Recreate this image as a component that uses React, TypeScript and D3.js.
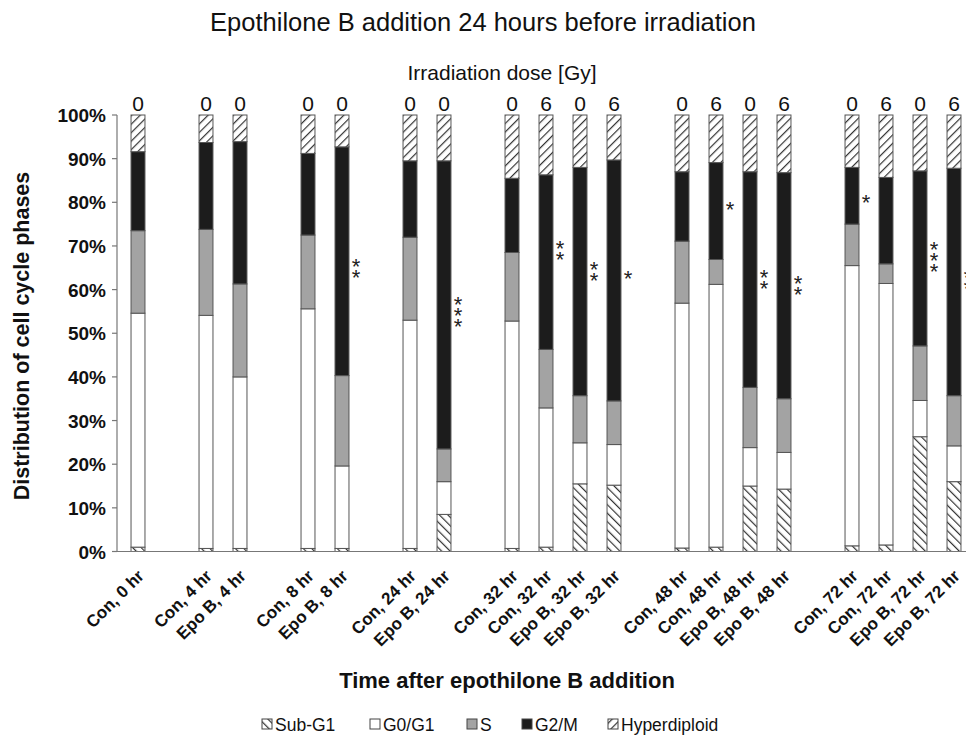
import React from "react";
import * as d3 from "d3";

// slots along the x axis; "" = empty gap between groups
const categories = [
  "Con, 0 hr", "",
  "Con, 4 hr", "Epo B, 4 hr", "",
  "Con, 8 hr", "Epo B, 8 hr", "",
  "Con, 24 hr", "Epo B, 24 hr", "",
  "Con, 32 hr", "Con, 32 hr", "Epo B, 32 hr", "Epo B, 32 hr", "",
  "Con, 48 hr", "Con, 48 hr", "Epo B, 48 hr", "Epo B, 48 hr", "",
  "Con, 72 hr", "Con, 72 hr", "Epo B, 72 hr", "Epo B, 72 hr",
];
const doses = [
  "0", "",
  "0", "0", "",
  "0", "0", "",
  "0", "0", "",
  "0", "6", "0", "6", "",
  "0", "6", "0", "6", "",
  "0", "6", "0", "6",
];

const subG1 = [1.0, null, 0.7, 0.7, null, 0.7, 0.7, null, 0.7, 8.5, null, 0.7, 1.0, 15.5, 15.2, null, 0.8, 1.0, 15.0, 14.3, null, 1.3, 1.5, 26.3, 16.0];
const g0g1 = [53.6, null, 53.4, 39.3, null, 54.9, 18.9, null, 52.3, 7.5, null, 52.1, 31.9, 9.4, 9.3, null, 56.1, 60.2, 8.8, 8.4, null, 64.2, 59.9, 8.3, 8.2];
const sPhase = [18.9, null, 19.7, 21.3, null, 16.9, 20.7, null, 19.0, 7.5, null, 15.7, 13.4, 10.8, 10.0, null, 14.2, 5.7, 13.8, 12.3, null, 9.5, 4.5, 12.5, 11.5];
const g2m = [18.1, null, 19.9, 32.6, null, 18.7, 52.4, null, 17.5, 66.0, null, 17.0, 40.0, 52.3, 55.2, null, 15.9, 22.2, 49.4, 51.8, null, 13.0, 19.8, 40.1, 52.1];
const hyper = [8.4, null, 6.3, 6.1, null, 8.8, 7.3, null, 10.5, 10.5, null, 14.5, 13.7, 12.0, 10.3, null, 13.0, 10.9, 13.0, 13.2, null, 12.0, 14.3, 12.8, 12.2];

const seriesNames = ["Sub-G1", "G0/G1", "S", "G2/M", "Hyperdiploid"];
const seriesFill = ["url(#hatchDown)", "#ffffff", "#a3a3a3", "#1c1c1c", "url(#hatchUp)"];

// significance marks: slot index, label, level (%)
const starSlot = [6, 9, 12, 13, 14, 17, 18, 19, 21, 23, 24];
const starLabel = ["**", "***", "**", "**", "*", "*", "**", "**", "*", "***", "**"];
const starLevel = [65.1, 55.3, 69.4, 64.6, 63.6, 79.4, 62.7, 61.2, 81.2, 67.9, 62.7];

const yTicks = [0, 10, 20, 30, 40, 50, 60, 70, 80, 90, 100];

const W = 966;
const H = 739;
const font = "'Liberation Sans', Arial, sans-serif";

export default function App() {
  const keys = categories.map((_, i) => String(i));
  const x = d3.scaleBand().domain(keys).range([121, 971]).paddingInner(0.59).paddingOuter(0.295);
  const y = d3.scaleLinear().domain([0, 100]).range([551.5, 115]);
  const bw = x.bandwidth();

  const rows = categories.map((c, i) => ({
    key: String(i),
    vals: [subG1[i], g0g1[i], sPhase[i], g2m[i], hyper[i]],
  }));

  const legendX = [262, 370, 467, 522, 608];

  return (
    <svg width={W} height={H} style={{ position: "absolute", left: 0, top: 0, background: "#fff" }}>
      <defs>
        <pattern id="hatchUp" width="6" height="6" patternUnits="userSpaceOnUse" patternTransform="rotate(45)">
          <rect width="6" height="6" fill="#fff" />
          <line x1="0" y1="0" x2="0" y2="6" stroke="#333" strokeWidth="2.4" />
        </pattern>
        <pattern id="hatchDown" width="6" height="6" patternUnits="userSpaceOnUse" patternTransform="rotate(-45)">
          <rect width="6" height="6" fill="#fff" />
          <line x1="0" y1="0" x2="0" y2="6" stroke="#333" strokeWidth="2.4" />
        </pattern>
      </defs>

      <text x={483} y={31} textAnchor="middle" fontFamily={font} fontSize={25.5} fill="#111">
        Epothilone B addition 24 hours before irradiation
      </text>
      <text x={502} y={80} textAnchor="middle" fontFamily={font} fontSize={21} fill="#111">
        Irradiation dose [Gy]
      </text>

      {/* y axis */}
      <line x1={117} x2={117} y1={y(0)} y2={y(100)} stroke="#777" strokeWidth={1.2} />
      {yTicks.map((t) => (
        <g key={t}>
          <line x1={112} x2={117} y1={y(t)} y2={y(t)} stroke="#777" strokeWidth={1.2} />
          <text x={106} y={y(t) + 7} textAnchor="end" fontFamily={font} fontWeight="bold" fontSize={19} fill="#111">
            {t}%
          </text>
        </g>
      ))}
      <text
        transform={`translate(29,${336}) rotate(-90)`}
        textAnchor="middle"
        fontFamily={font}
        fontWeight="bold"
        fontSize={21.5}
        fill="#111"
      >
        Distribution of cell cycle phases
      </text>

      {/* bars */}
      {rows.map((r) => {
        if (r.vals[0] == null) return null;
        let acc = 0;
        const x0 = x(r.key)!;
        return (
          <g key={r.key}>
            {r.vals.map((v, j) => {
              const lo = acc;
              acc += v as number;
              return (
                <rect
                  key={j}
                  x={x0}
                  y={y(acc)}
                  width={bw}
                  height={y(lo) - y(acc)}
                  fill={seriesFill[j]}
                  stroke="#555"
                  strokeWidth={1}
                />
              );
            })}
          </g>
        );
      })}

      <line x1={117} x2={W} y1={y(0)} y2={y(0)} stroke="#777" strokeWidth={1.2} />

      {/* dose labels */}
      {doses.map((d, i) =>
        d ? (
          <text key={i} x={x(String(i))! + bw / 2} y={111} textAnchor="middle" fontFamily={font} fontSize={21} fill="#111">
            {d}
          </text>
        ) : null
      )}

      {/* significance, stacked vertically */}
      {starSlot.map((s, i) => (
        <text
          key={i}
          x={x(String(s))! + bw / 2 + 14}
          y={y(starLevel[i]) - 2}
          textAnchor="middle"
          fontFamily={font}
          fontSize={22}
          fill="#222"
          style={{ writingMode: "vertical-rl", textOrientation: "upright", letterSpacing: "-14px" }}
        >
          {starLabel[i]}
        </text>
      ))}

      {/* x labels */}
      {categories.map((c, i) =>
        c ? (
          <text
            key={i}
            transform={`translate(${x(String(i))! + bw / 2 + 7},${577}) rotate(-45)`}
            textAnchor="end"
            fontFamily={font}
            fontWeight="bold"
            fontSize={17}
            fill="#111"
          >
            {c}
          </text>
        ) : null
      )}

      <text x={507} y={688} textAnchor="middle" fontFamily={font} fontWeight="bold" fontSize={22} fill="#111">
        Time after epothilone B addition
      </text>

      {/* legend */}
      {seriesNames.map((n, i) => (
        <g key={n} transform={`translate(${legendX[i]},${731})`}>
          <rect x={0} y={-12} width={10} height={10} fill={seriesFill[i]} stroke="#444" strokeWidth={1} />
          <text x={13} y={0} fontFamily={font} fontSize={17.5} fill="#111">
            {n}
          </text>
        </g>
      ))}
    </svg>
  );
}
